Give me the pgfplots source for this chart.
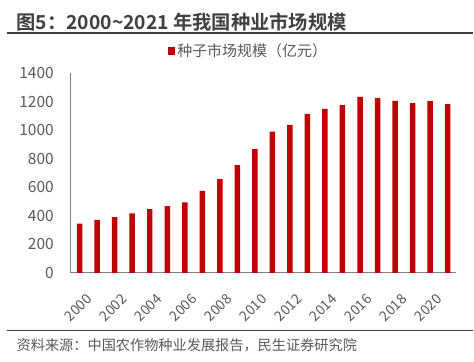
\documentclass[border=0pt]{standalone}
\usepackage{fontspec}
\setmainfont{Noto Sans CJK SC}[BoldFont={* Bold}]
\usepackage{pgfplots}
\pgfplotsset{compat=1.18}
\definecolor{barred}{HTML}{C00000}
\definecolor{txtgrey}{HTML}{595959}
\definecolor{ttlgrey}{HTML}{3F3F3F}
\definecolor{axgrey}{HTML}{808080}
\begin{document}
\begin{tikzpicture}[x=1pt,y=1pt]
\path (0,0) rectangle (474,362);
% title
\node[anchor=west,inner sep=0pt,text=ttlgrey,font=\fontsize{19.3}{21}\selectfont\bfseries] at (16.5,339.5) {图5：2000\textasciitilde2021 年我国种业市场规模};
\draw[color=ttlgrey,line width=1.3pt] (7,329) -- (474,329);
\draw[color=ttlgrey,line width=1.3pt] (7,31) -- (474,31);
\node[anchor=west,inner sep=0pt,text=txtgrey,font=\fontsize{14.2}{16}\selectfont] at (16.5,16.5) {资料来源：中国农作物种业发展报告，民生证券研究院};
\begin{axis}[
  at={(71pt,88.7pt)}, anchor=south west,
  scale only axis, width=386pt, height=200pt,
  xmin=1999.5, xmax=2021.5, ymin=0, ymax=1400,
  ytick={0,200,...,1400},
  xtick={2000,2002,...,2020},
  /pgf/number format/assume math mode=true,
  /pgf/number format/set thousands separator={},
  xticklabel style={rotate=45,anchor=north east,font=\fontsize{14}{15}\selectfont,text=txtgrey,inner sep=0pt,xshift=-10pt,yshift=-18pt},
  yticklabel style={font=\fontsize{15.5}{16}\selectfont,text=txtgrey,inner sep=0pt,xshift=-17pt,anchor=east},
  major tick length=0pt,
  axis x line*=bottom, axis y line*=left,
  axis line style={color=axgrey,line width=1.1pt},
  x axis line style={-}, y axis line style={-},
  ybar, bar width=5.5pt,
  legend style={at={(axis description cs:0.4604,1.1115)},anchor=center,draw=none,fill=none,font=\fontsize{15}{16}\selectfont,text=txtgrey,inner sep=0pt,legend cell align=left},
  legend image code/.code={\fill[barred] (0pt,-3.8pt) rectangle (7.6pt,3.8pt);},
]
\addplot[fill=barred,draw=none] coordinates {
(2000,345) (2001,371) (2002,392) (2003,417) (2004,448) (2005,469) (2006,494)
(2007,576) (2008,658) (2009,756) (2010,868) (2011,991) (2012,1038) (2013,1115)
(2014,1150) (2015,1176) (2016,1234) (2017,1225) (2018,1206) (2019,1190)
(2020,1204) (2021,1183)};
\addlegendentry{种子市场规模（亿元）}
\end{axis}
\end{tikzpicture}
\end{document}
